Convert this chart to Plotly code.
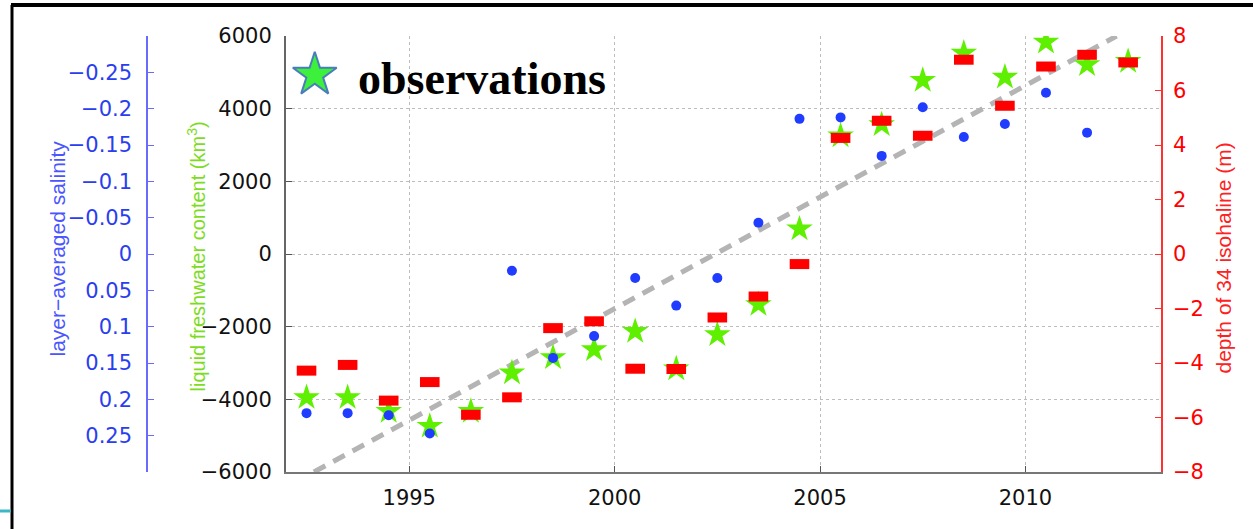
import plotly.graph_objects as go

# ---------------- data ----------------
years = [1992.5, 1993.5, 1994.5, 1995.5, 1996.5, 1997.5, 1998.5, 1999.5, 2000.5,
         2001.5, 2002.5, 2003.5, 2004.5, 2005.5, 2006.5, 2007.5, 2008.5, 2009.5,
         2010.5, 2011.5, 2012.5]
freshwater = [-3950, -3950, -4330, -4740, -4330, -3270, -2850, -2630, -2130,
              -3160, -2220, -1390, 690, 3250, 3560, 4780, 5530, 4870,
              5830, 5210, 5300]
salinity = [0.219, 0.219, 0.222, 0.247, None, 0.023, 0.143, 0.113, 0.033,
            0.071, 0.033, -0.043, -0.186, -0.188, -0.135, -0.202, -0.161, -0.179,
            -0.222, -0.167, None]
isohaline_depth = [-4.28, -4.07, -5.38, -4.70, -5.90, -5.26, -2.72, -2.47, -4.21,
                   -4.22, -2.33, -1.56, -0.37, 4.26, 4.89, 4.34, 7.13, 5.44,
                   6.88, 7.31, 7.03]
trend_years = [1992.68, 2012.22]
trend_fw = [-6000, 6000]

x_ticks = [1995, 2000, 2005, 2010]
fw_ticks = [-6000, -4000, -2000, 0, 2000, 4000, 6000]
sal_ticks = [-0.25, -0.2, -0.15, -0.1, -0.05, 0, 0.05, 0.1, 0.15, 0.2, 0.25]
sal_ticktext = ["\u22120.25", "\u22120.2", "\u22120.15", "\u22120.1", "\u22120.05", "0",
                "0.05", "0.1", "0.15", "0.2", "0.25"]
depth_ticks = [-8, -6, -4, -2, 0, 2, 4, 6, 8]

# ---------------- layout constants ----------------
W, H = 1253, 529
ML, MR, MT, MB = 0, 0, 36, 57
PLOT_L, PLOT_R = 286, 1161
PH = H - MT - MB


def px(xp):
    return xp / W


def py(yp):
    return (H - MB - yp) / PH


LEGEND_X, LEGEND_Y = 1992.7, 4930

TICKFONT = dict(family="DejaVu Sans", size=21)
BLUE = "#1f3cff"
RED = "#ff0000"
GREEN = "#5ef000"

fig = go.Figure()

fig.add_trace(go.Scatter(x=trend_years, y=trend_fw, mode="lines",
                         line=dict(color="#b4b4b4", width=5, dash="13px,9px"),
                         yaxis="y", showlegend=False, hoverinfo="skip"))
fig.add_trace(go.Scatter(x=years, y=freshwater, mode="markers",
                         marker=dict(symbol="star", size=20, color=GREEN,
                                     line=dict(width=0)),
                         yaxis="y", showlegend=False))
fig.add_trace(go.Scatter(x=[LEGEND_X], y=[LEGEND_Y], mode="markers",
                         marker=dict(symbol="star", size=33, color="#3cf03c",
                                     line=dict(width=2, color="#4a7ebb")),
                         yaxis="y", showlegend=False, hoverinfo="skip"))
fig.add_trace(go.Scatter(x=years, y=salinity, mode="markers",
                         marker=dict(symbol="circle", size=10, color=BLUE,
                                     line=dict(width=0)),
                         yaxis="y2", showlegend=False))
fig.add_trace(go.Scatter(x=years, y=isohaline_depth, mode="markers",
                         marker=dict(symbol="line-ew", size=14,
                                     line=dict(width=10, color=RED)),
                         yaxis="y3", showlegend=False))

fig.update_layout(
    width=W, height=H,
    margin=dict(l=ML, r=MR, t=MT, b=MB),
    paper_bgcolor="white", plot_bgcolor="white",
    xaxis=dict(domain=[px(PLOT_L), px(PLOT_R)], range=[1992, 2013.3],
               tickvals=x_ticks, ticks="inside", ticklen=6, tickcolor="#555",
               showline=True, linecolor="#777", linewidth=2,
               showgrid=True, gridcolor="#bdbdbd", griddash="dot", gridwidth=1,
               zeroline=False, tickfont=dict(TICKFONT, color="#111"),
               ticklabelstandoff=6),
    yaxis=dict(range=[-6000, 6000], tickvals=fw_ticks, ticks="inside", ticklen=6,
               tickcolor="#555", showline=True, linecolor="#666", linewidth=2,
               showgrid=True, gridcolor="#bdbdbd", griddash="dot", gridwidth=1,
               zeroline=False, tickfont=dict(TICKFONT, color="#111"),
               ticklabelstandoff=8),
    yaxis2=dict(overlaying="y", anchor="free", position=px(147), side="left",
                range=[0.3, -0.3], tickvals=sal_ticks, ticktext=sal_ticktext,
                ticks="inside", ticklen=6, tickcolor="#6a6aff",
                showline=True, linecolor="#6a6aff", linewidth=1.5,
                showgrid=False, zeroline=False,
                tickfont=dict(TICKFONT, color="#2a3ef0"), ticklabelstandoff=10),
    yaxis3=dict(overlaying="y", anchor="x", side="right", range=[-8, 8],
                tickvals=depth_ticks, ticks="inside", ticklen=6, tickcolor="#ff3030",
                showline=True, linecolor="#ff3030", linewidth=1.5,
                showgrid=False, zeroline=False,
                tickfont=dict(TICKFONT, color=RED), ticklabelstandoff=6),
)

annotations = [
    dict(text="layer\u2212averaged salinity", x=px(43), y=py(249), textangle=-90,
         font=dict(family="Liberation Sans", size=21, color="#4a55ff")),
    dict(text="liquid freshwater content (km<sup>3</sup>)", x=px(181), y=py(257),
         textangle=-90, font=dict(family="Liberation Sans", size=20, color="#7ddc1e")),
    dict(text="depth of 34 isohaline (m)", x=px(1236), y=py(258), textangle=-90,
         font=dict(family="Liberation Sans", size=21, color="#ff2020")),
    dict(text="<b>observations</b>", x=px(356), y=py(78), xanchor="left",
         yanchor="middle",
         font=dict(family="Liberation Serif", size=46, color="black")),
]
for a in annotations:
    a.setdefault("xref", "paper")
    a.setdefault("yref", "paper")
    a.setdefault("showarrow", False)
fig.update_layout(annotations=annotations)

shapes = [
    dict(type="line", x0=px(12), x1=px(12), y0=py(5), y1=py(529),
         line=dict(color="black", width=3)),
    dict(type="line", x0=px(11), x1=px(1253), y0=py(5), y1=py(5),
         line=dict(color="black", width=4)),
    dict(type="line", x0=px(0), x1=px(11), y0=py(511), y1=py(511),
         line=dict(color="#3cb8c4", width=3)),
]
for s in shapes:
    s["xref"] = "paper"
    s["yref"] = "paper"
fig.update_layout(shapes=shapes)

fig.write_html("out.html",
               config={"displayModeBar": False},
               post_script="document.body.style.margin='0px';"
                           "document.body.style.overflow='hidden';")
